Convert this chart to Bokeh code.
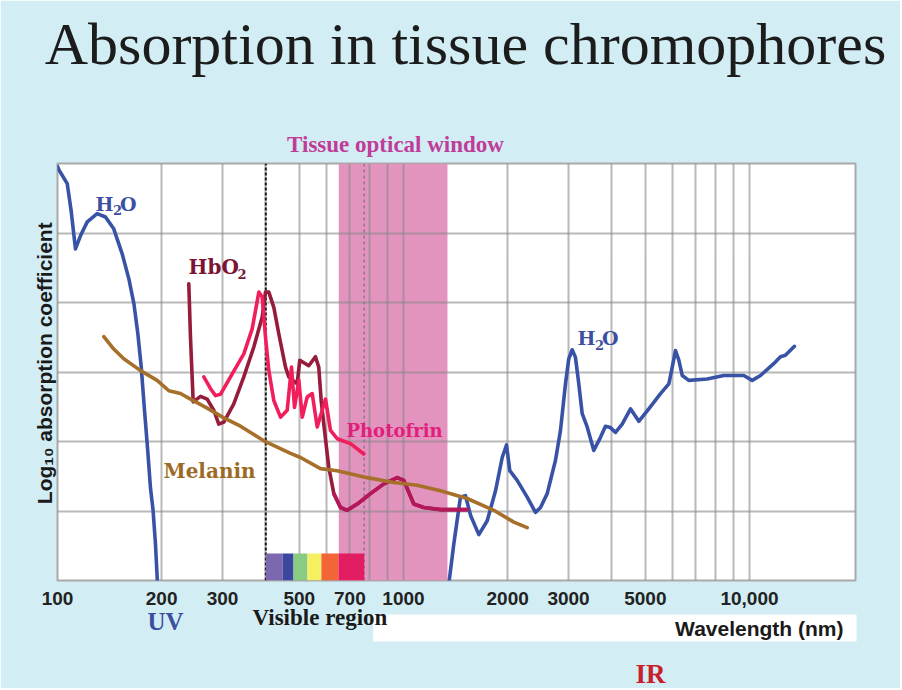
import math
from bokeh.plotting import figure
from bokeh.models import Range1d, Label, FixedTicker
from bokeh.embed import file_html
from bokeh.resources import INLINE

# ---------------- data (wavelength in nm, log10 absorption in arbitrary decades) -------------
h2o_uv_nm = [100, 100.9, 106.7, 109.5, 112.7, 116.5, 121.9, 130.2, 137.6, 145.4, 153.8, 160.8,
             166.3, 170.7, 174.6, 178.4, 182.3, 185.6, 188.9, 191.9, 194.1, 194.6]
h2o_uv_abs = [5.96, 5.91, 5.71, 5.32, 4.77, 4.96, 5.16, 5.28, 5.23, 5.06, 4.70, 4.34,
              3.98, 3.55, 3.07, 2.45, 1.87, 1.34, 1.01, 0.53, 0.05, -0.1]

h2o_ir_nm = [1352, 1398, 1461, 1511, 1562, 1651, 1746, 1845, 1929, 1985, 2029, 2131, 2278, 2407,
             2489, 2602, 2750, 2843, 2939, 3004, 3073, 3141, 3211, 3285, 3396, 3548, 3710, 3835,
             3965, 4100, 4287, 4530, 4788, 5117, 5532, 5847, 5981, 6113, 6249, 6391, 6678, 7546,
             8429, 9627, 10180, 10760, 11750, 12290, 12700, 13490]
h2o_ir_abs = [-0.05, 0.53, 1.20, 1.22, 0.94, 0.66, 0.86, 1.29, 1.77, 1.95, 1.58, 1.44, 1.20, 0.98,
              1.05, 1.25, 1.73, 2.16, 2.83, 3.19, 3.32, 3.21, 2.83, 2.40, 2.21, 1.87, 2.06, 2.22,
              2.20, 2.13, 2.25, 2.47, 2.29, 2.47, 2.69, 2.83, 3.07, 3.31, 3.17, 2.95, 2.88, 2.90,
              2.95, 2.95, 2.88, 2.95, 3.12, 3.22, 3.24, 3.37]

melanin_nm = [136.1, 145.4, 155.4, 173.8, 194.1, 209.8, 226.7, 242.3, 270.8, 302.5, 338, 394.8,
              471.5, 503.9, 575.6, 643.2, 785.6, 937.6, 1095.6, 1279, 1528, 1824, 2084, 2278]
melanin_abs = [3.51, 3.33, 3.19, 3.02, 2.88, 2.73, 2.69, 2.61, 2.48, 2.34, 2.22, 2.01,
               1.83, 1.77, 1.61, 1.58, 1.48, 1.41, 1.37, 1.29, 1.18, 1.01, 0.84, 0.76]

hbo2_nm = [239.6, 242.3, 246.7, 259.0, 270.8, 282.9, 292.5, 302.5, 323.2, 345.5, 369.3, 390.5,
           399.2, 408.1, 421.9, 436.1, 456.0, 466.1, 492.9, 501.4, 532.3, 556.6, 569.0, 578.2,
           591.1, 608.3, 629.0, 657.6, 687.6, 734.8, 802.9, 877.3, 959.0, 1002, 1035.9, 1071,
           1144.6, 1279, 1528]
hbo2_abs = [4.27, 3.50, 2.57, 2.65, 2.61, 2.45, 2.25, 2.28, 2.54, 2.93, 3.36, 3.79,
            4.15, 4.15, 3.93, 3.55, 3.07, 2.93, 2.83, 3.17, 3.09, 3.22, 3.07, 2.59,
            2.16, 1.63, 1.25, 1.05, 1.01, 1.10, 1.25, 1.39, 1.48, 1.44, 1.27, 1.10,
            1.05, 1.02, 1.02]

photofrin_nm = [264.8, 276.9, 286.2, 295.9, 316.2, 345.5, 365.3, 381.9, 390.5, 399.2, 408.1,
                421.9, 441.1, 461.2, 474.6, 484.2, 498.3, 509.7, 526.9, 544.7, 563.2, 595.1,
                615.2, 643.2, 702.9, 768]
photofrin_abs = [2.93, 2.76, 2.66, 2.68, 2.93, 3.26, 3.62, 4.15, 4.08, 3.50, 3.02,
                 2.59, 2.35, 2.45, 3.07, 2.49, 2.88, 2.35, 2.64, 2.69, 2.21, 2.61,
                 2.16, 2.04, 1.97, 1.82]

window_nm = [650, 1340]            # tissue optical window
visible_start_nm = 400
visible_end_nm = 770
spectrum_edges = [400, 447, 481, 528, 579, 649, 770]
spectrum_colors = ["#7d68b0", "#3d47a0", "#8acb84", "#f5ef62", "#f26536", "#e21d62"]
spectrum_top = 0.39

tick_values = [100, 200, 300, 500, 700, 1000, 2000, 3000, 5000, 10000]
tick_labels = ["100", "200", "300", "500", "700", "1000", "2000", "3000", "5000", "10,000"]
grid_x = [100, 200, 300, 400, 500, 600, 700, 800, 900, 1000, 2000, 3000, 4000, 5000,
          6000, 7000, 8000, 9000, 10000]
grid_y = [1, 2, 3, 4, 5]

# ---------------- figure -------------
W, H = 900, 688
FL, FR, FT, FB = 57, 855, 163, 580      # frame edges in canvas pixels
X0, X1 = 100, 20250
p = figure(width=W, height=H, x_axis_type="log", x_range=Range1d(X0, X1),
           y_range=Range1d(0, 6), title=None,
           output_backend="svg", toolbar_location=None,
           min_border_left=FL, min_border_right=W - FR, min_border_top=FT,
           min_border_bottom=H - FB,
           background_fill_color="white", border_fill_color="#d2edf4")
p.outline_line_color = "#a9a9a9"
p.outline_line_width = 2

ax = p.xaxis[0]
ax.ticker = FixedTicker(ticks=tick_values)
ax.major_label_overrides = {v: t for v, t in zip(tick_values, tick_labels)}
ax.axis_line_color = None
ax.major_tick_line_color = None
ax.minor_tick_line_color = None
ax.major_label_standoff = 5
ax.major_label_text_font = "Liberation Sans"
ax.major_label_text_font_style = "bold"
ax.major_label_text_font_size = "19px"
ax.major_label_text_color = "#222222"

ay = p.yaxis[0]
ay.ticker = FixedTicker(ticks=[])
ay.axis_line_color = None
ay.major_tick_line_color = None
ay.minor_tick_line_color = None
ay.major_label_standoff = 0
ay.axis_label = "\u00a0\u00a0\u00a0Log\u2081\u2080 absorption coefficient"
ay.axis_label_standoff = 2
ay.axis_label_text_font = "Liberation Sans"
ay.axis_label_text_font_style = "bold"
ay.axis_label_text_font_size = "21px"
ay.axis_label_text_color = "#1a1a1a"

p.xgrid.ticker = FixedTicker(ticks=grid_x)
p.ygrid.ticker = FixedTicker(ticks=grid_y)
for g in (p.xgrid, p.ygrid):
    g.grid_line_color = "#8a8a8a"
    g.grid_line_alpha = 0.6
    g.grid_line_width = 2

# tissue optical window band, under the grid
p.quad(left=[window_nm[0]], right=[window_nm[1]], bottom=[0], top=[6],
       fill_color="#e293be", line_color=None, level="image")

# visible-region boundaries
p.line([visible_start_nm, visible_start_nm], [0, 6], line_color="#1a1a1a", line_width=2,
       line_dash="3 2")
p.line([visible_end_nm, visible_end_nm], [0, 6], line_color="#8c7a92", line_width=1.6,
       line_dash="3 3")

lw = 3.6
kw = dict(line_width=lw, line_join="round", line_cap="round")
p.line(h2o_uv_nm, h2o_uv_abs, line_color="#3853a6", **kw)
p.line(h2o_ir_nm, h2o_ir_abs, line_color="#3853a6", **kw)
p.line(hbo2_nm, hbo2_abs, line_color="#961c3c", **kw)
i0 = next(i for i, v in enumerate(hbo2_nm) if v >= window_nm[0]) - 1
p.line(hbo2_nm[i0:], hbo2_abs[i0:], line_color="#b4175a", **kw)
p.line(photofrin_nm, photofrin_abs, line_color="#f01e5a", **kw)
p.line(melanin_nm, melanin_abs, line_color="#a6702a", **kw)

# visible spectrum strip
p.quad(left=spectrum_edges[:-1], right=spectrum_edges[1:], bottom=0, top=spectrum_top,
       fill_color=spectrum_colors, line_color=None)

# ---------------- annotations -------------
# Labels use "screen" units relative to the bbox they live in: the frame for labels inside
# the plot; their own stacked slot for labels in the side panels.
LINE_H = {"Liberation Serif": 1.107, "Liberation Sans": 1.117, "DejaVu Serif": 1.164}
BASE_SHIFT = 0.33      # rendered alphabetic baseline sits this many em below the anchor
AXIS_H = 28            # height of the x-axis slot in the bottom panel

def make_label(text, x, y, size, color, font, style, align, **extra):
    kwargs = dict(x=x, y=y, x_units="screen", y_units="screen", text=text, text_font=font,
                  text_font_size=f"{size}px", text_color=color, text_font_style=style,
                  text_align=align, text_baseline="alphabetic")
    try:
        return Label(**kwargs, **extra)
    except Exception:
        return Label(**kwargs)

def lbl(text, px, py, size, color, font="DejaVu Serif", style="bold", align="left"):
    sy = py - BASE_SHIFT * size
    p.add_layout(make_label(text, px - FL, FB - sy, size, color, font, style, align), "center")

stack = {"above": FT, "below": FB + AXIS_H}
def side_lbl(where, text, px, py, size, color, font="Liberation Serif", style="bold",
             align="left", extra_h=0, **extra):
    h = LINE_H[font] * size + extra_h
    if where == "above":
        bottom = stack["above"]
        stack["above"] -= h
    else:
        stack["below"] += h
        bottom = stack["below"]
    sy = py - BASE_SHIFT * size
    p.add_layout(make_label(text, px - FL, bottom - sy, size, color, font, style, align,
                            **extra), where)

blue = "#3c4fa0"
side_lbl("above", "Tissue optical window", 395, 152, 23, "#c03c98", align="center")
side_lbl("above", "Absorption in tissue chromophores", 465, 63, 60, "#1c1c1c",
         style="normal", align="center")
side_lbl("above", "UV", 165, 628, 25, blue, align="center")
side_lbl("above", "IR", 635, 681, 27, "#c8202a")
side_lbl("below", "Wavelength (nm)", 856, 635, 21, "#1a1a1a", font="Liberation Sans",
         align="right", extra_h=3, background_fill_color="white", background_fill_alpha=1.0,
         padding=dict(left=302, right=13, top=2, bottom=2))
side_lbl("below", "Visible region", 252, 626, 23, "#1a1a1a")

# texts inside the frame
lbl("H", 95, 210, 19, blue); lbl("2", 112.5, 214, 13, blue); lbl("O", 119.5, 210, 19, blue)
lbl("H", 577, 344, 19, blue); lbl("2", 594.5, 349, 13, blue); lbl("O", 601.5, 344, 19, blue)
lbl("HbO", 188, 273, 20, "#7b1535"); lbl("2", 237, 278, 13, "#7b1535")
lbl("Photofrin", 346, 436, 18, "#e01f7c")
lbl("Melanin", 163, 477, 20, "#9b6b25")

open("out.html", "w").write(file_html(p, INLINE))
